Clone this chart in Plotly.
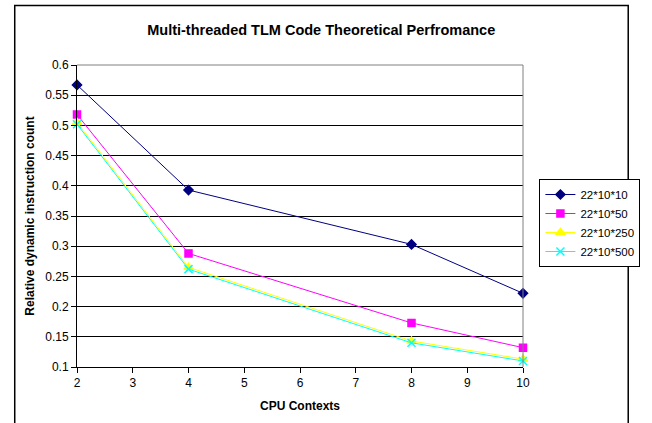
import plotly.graph_objects as go

cpu_contexts = [2, 4, 8, 10]
series_names = ["22*10*10", "22*10*50", "22*10*250", "22*10*500"]
s_10 = [0.567, 0.393, 0.303, 0.222]
s_50 = [0.518, 0.288, 0.173, 0.132]
s_250 = [0.505, 0.265, 0.143, 0.113]
s_500 = [0.502, 0.262, 0.140, 0.110]
y_ticks = [0.1, 0.15, 0.2, 0.25, 0.3, 0.35, 0.4, 0.45, 0.5, 0.55, 0.6]
x_ticks = [2, 3, 4, 5, 6, 7, 8, 9, 10]

colors = ["#000080", "#FF00FF", "#FFFF00", "#00FFFF"]
symbols = ["diamond", "square", "triangle-up", "x-thin"]
sizes = [7, 7, 8, 8]
values = [s_10, s_50, s_250, s_500]

W, H = 652, 423
L, R, T, B = 77, 539, 65, 367

fig = go.Figure()
for name, vals, c, s, sz in zip(series_names, values, colors, symbols, sizes):
    fig.add_trace(go.Scatter(
        x=cpu_contexts, y=vals, name=name, mode="lines+markers",
        line=dict(color=c, width=1),
        marker=dict(symbol=s, color=c, size=sz, line=dict(color=c, width=1.5)),
        cliponaxis=False,
    ))

pw = R - L
ph = B - T
def px(x):
    return (x - L) / pw
def py(y):
    return (B - y) / ph

font = "Liberation Sans, Arial, sans-serif"
fig.update_layout(
    width=W, height=H,
    margin=dict(l=L, r=W - R, t=T, b=H - B, pad=0),
    paper_bgcolor="white", plot_bgcolor="white",
    font=dict(family=font, size=12, color="black"),
    title=dict(text="<b>Multi-threaded TLM Code Theoretical Perfromance</b>",
               x=px(330), xref="paper", xanchor="center",
               y=1 - 30 / H, yanchor="middle", font=dict(size=14.5)),
    xaxis=dict(range=[2, 10], tickvals=x_ticks, showgrid=False, zeroline=False,
               showline=True, linecolor="black", linewidth=1,
               ticks="outside", ticklen=5, tickcolor="black",
               tickfont=dict(size=12),
               title=dict(text="<b>CPU Contexts</b>", standoff=12, font=dict(size=12)),
               mirror=False),
    yaxis=dict(range=[0.1, 0.6], tickvals=y_ticks, showgrid=True, gridcolor="black",
               gridwidth=1, zeroline=False, showline=True, linecolor="black", linewidth=1,
               ticks="outside", ticklen=5, tickcolor="black",
               tickfont=dict(size=12),
               title=dict(text="<b>Relative dynamic instruction count</b>", standoff=8,
                          font=dict(size=12))),
    legend=dict(x=px(556), y=py(179), xanchor="left", yanchor="top",
                bordercolor="black", borderwidth=1, bgcolor="white",
                font=dict(size=11.5), tracegroupgap=0, itemwidth=30),
    showlegend=True,
)

# plot area top/right gray border
fig.add_shape(type="line", xref="paper", yref="paper", x0=0, x1=1, y0=1, y1=1,
              line=dict(color="#808080", width=1))
fig.add_shape(type="line", xref="paper", yref="paper", x0=1, x1=1, y0=0, y1=1,
              line=dict(color="#808080", width=1))
# outer chart border
fig.add_shape(type="rect", xref="paper", yref="paper",
              x0=px(12.5), x1=px(648), y0=py(430), y1=py(5.5),
              line=dict(color="black", width=1.5), layer="below")

fig.write_html("out.html")
